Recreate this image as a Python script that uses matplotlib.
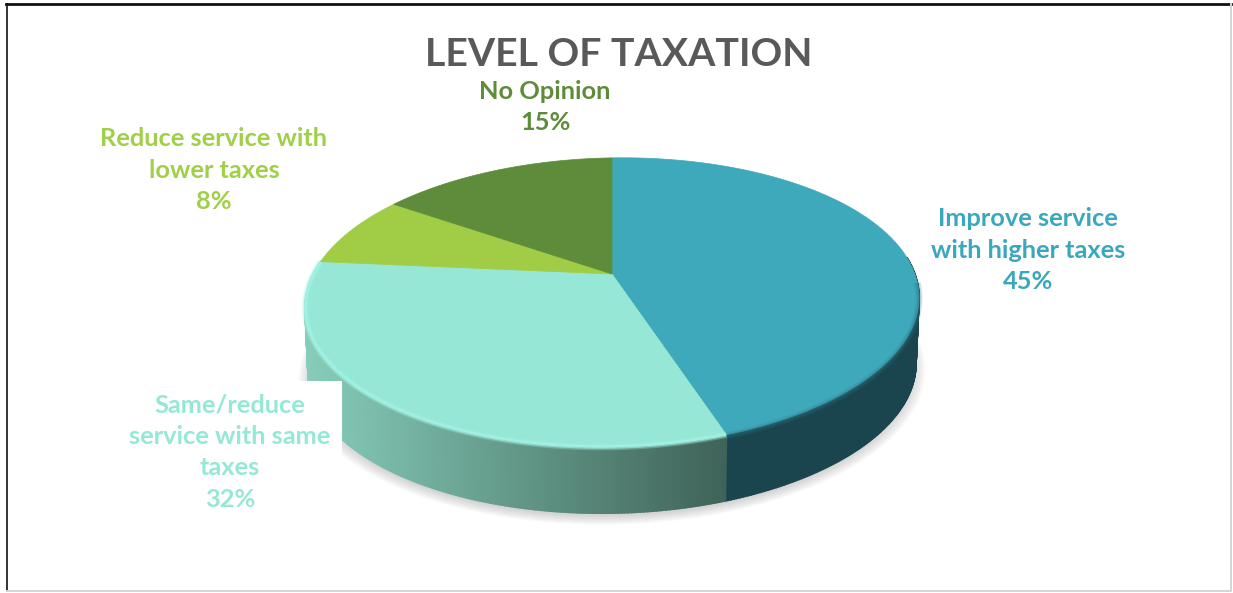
#!/usr/bin/env python3
"""Level of taxation survey results as a tilted 3D-style pie."""

import numpy as np
import matplotlib
matplotlib.use("Agg")
import matplotlib.pyplot as plt
from matplotlib.patches import Polygon, Rectangle

# ── Data ──────────────────────────────────────────────────────────────────────

categories = ["Improve service\nwith higher taxes",
              "Same/reduce\nservice with same\ntaxes",
              "Reduce service with\nlower taxes",
              "No Opinion"]
values = [45, 32, 8, 15]
title = "LEVEL OF TAXATION"

# ── Style ─────────────────────────────────────────────────────────────────────

W, H = 1233, 593
C_TOP = ["#3fa9bc", "#96e7d5", "#a0cc46", "#5e8c3a"]
C_TEXT = ["#3aa8bc", "#96e8d6", "#a0cf48", "#5e8c3a"]
LABEL_POS = [(1028, 250), (230, 452), (214, 170), (545, 107)]

CX, CY = 612, 274        # projected pie centre
RX, RY = 301, 139        # radii before perspective
PERSP = 0.197            # foreshortening of the far side
SHEAR = 0.016            # slight clockwise roll of the whole pie
DEPTH = 66               # height of the side wall


def project(theta, radius=1.0, drop=0.0, scale=1.0):
    """Clockwise angle from 12 o'clock (degrees) -> pixel coordinates."""
    t = np.radians(theta)
    px, py = radius * np.sin(t), radius * np.cos(t)
    w = 1 + PERSP * py
    x = scale * RX * px / w
    return CX + x, CY - RY * py / w - SHEAR * x + drop


def arc(start, stop, **kw):
    th = np.linspace(start, stop, max(int(abs(stop - start) * 2), 2))
    x, y = project(th, **kw)
    return np.column_stack([x, y])


def mix(c1, c2, f):
    a, b = np.array(matplotlib.colors.to_rgb(c1)), np.array(matplotlib.colors.to_rgb(c2))
    return tuple(a + (b - a) * f)


plt.rcParams["font.family"] = ["Lato", "Open Sans", "DejaVu Sans"]
fig = plt.figure(figsize=(W / 100, H / 100), dpi=100, facecolor="white")
ax = fig.add_axes([0, 0, 1, 1])
ax.set_xlim(0, W)
ax.set_ylim(H, 0)
ax.axis("off")

shares = np.array(values) / sum(values) * 360
edges = np.concatenate([[0], np.cumsum(shares)])

# ── Soft shadow under the pie ─────────────────────────────────────────────────

for grow in np.linspace(1.03, 0.99, 10):
    ax.add_patch(Polygon(arc(0, 360, radius=grow, drop=DEPTH + 5, scale=0.99),
                         facecolor="#808080", edgecolor="none", alpha=0.035, zorder=1))

# ── Side wall, built from small shaded strips ─────────────────────────────────

wall_light = ["#1b454e", "#84c9b6"]
wall_dark = ["#1b454e", "#3f6358"]
for i in range(2):
    start_v = max(edges[i], 85)
    stop_v = min(edges[i + 1], 280)
    th = np.arange(start_v, stop_v + 0.5, 0.5)
    x0 = project(stop_v)[0]
    x1 = project(start_v)[0]
    for a, b in zip(th[:-1], th[1:]):
        top = arc(a, b)
        bot = arc(b, a, drop=DEPTH, scale=0.99)
        shade = mix(wall_light[i], wall_dark[i], (project(a)[0] - x0) / max(x1 - x0, 1))
        ax.add_patch(Polygon(np.vstack([top, bot]), facecolor=shade, edgecolor=shade,
                             linewidth=1.2, zorder=2))

# ── Top face ──────────────────────────────────────────────────────────────────

for i, color in enumerate(C_TOP):
    pts = np.vstack([[project(0, radius=0)], arc(edges[i], edges[i + 1])])
    ax.add_patch(Polygon(pts, facecolor=color, edgecolor=color, linewidth=0.5, zorder=3))

# Bevel highlight and shade along the front rim, layered so the edge stays soft
rim = arc(edges[1], edges[2])
for lw, alpha in [(4.5, 0.3), (2.5, 0.6)]:
    ax.plot(rim[:, 0], rim[:, 1], color="#a6f6e8", linewidth=lw, alpha=alpha, zorder=4,
            solid_capstyle="butt")
rim = arc(95, edges[1])
for lw, alpha in [(5, 0.2), (2.5, 0.3)]:
    ax.plot(rim[:, 0], rim[:, 1] + 1, color="#2b7280", linewidth=lw, alpha=alpha, zorder=4,
            solid_capstyle="butt")

# White box behind the lower left label
ax.add_patch(Rectangle((120, 381), 222, 140, facecolor="white", edgecolor="none", zorder=5))

# ── Text ──────────────────────────────────────────────────────────────────────

ax.text(618.5, 55, title, color="#595959", fontsize=28.3, fontweight="bold",
        ha="center", va="center", zorder=6)

for name, val, pos, color in zip(categories, values, LABEL_POS, C_TEXT):
    ax.text(pos[0], pos[1], f"{name}\n{val}%", color=color, fontsize=18.3, fontweight="bold",
            ha="center", va="center", linespacing=1.44, zorder=6)

# ── Frame ─────────────────────────────────────────────────────────────────────

ax.plot([6.5, 6.5], [4, 591], color="#333333", linewidth=1.4, zorder=7)
ax.plot([5.5, 1231], [4, 4], color="#111111", linewidth=2, zorder=7)
ax.plot([6.5, 1231, 1231], [591, 591, 4], color="#d4d4d4", linewidth=1.4, zorder=7)

fig.savefig("out.png", dpi=100, facecolor="white")
